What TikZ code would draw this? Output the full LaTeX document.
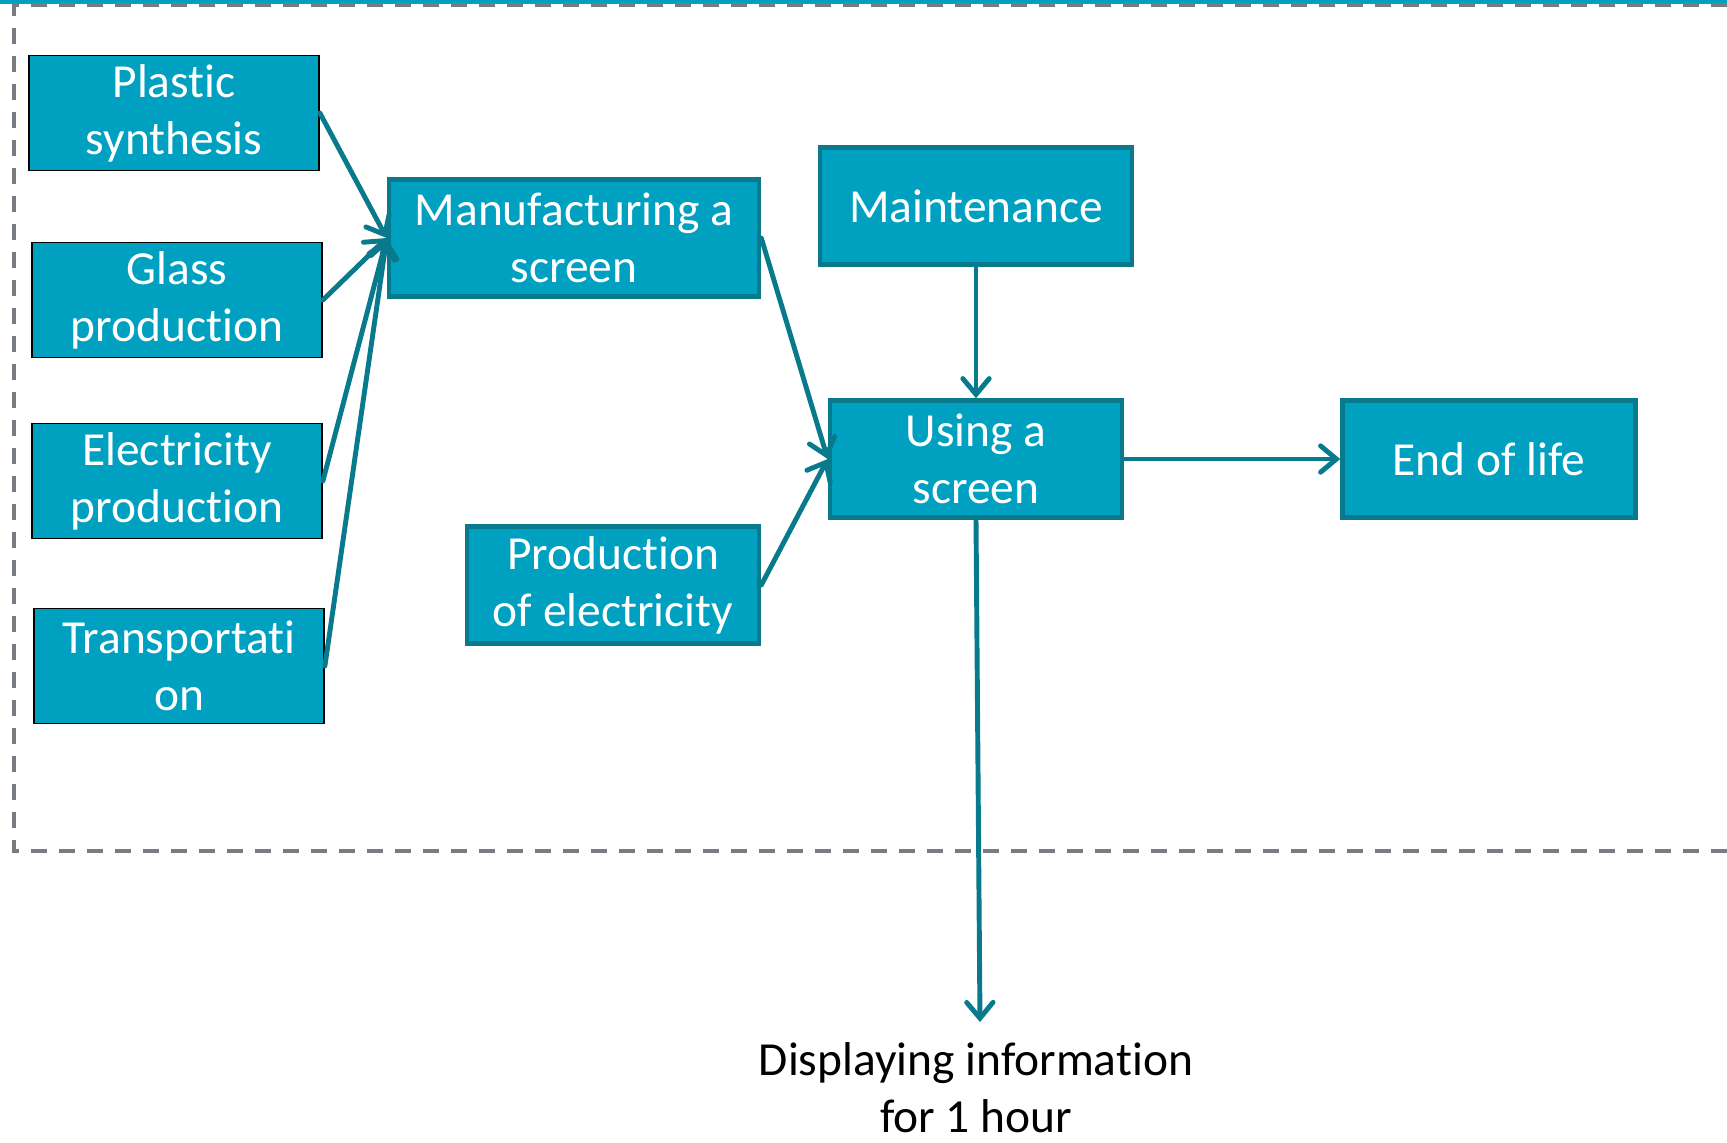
\documentclass[tikz,border=0pt]{standalone}
\usepackage{fontspec}
\setmainfont{Carlito}[RawFeature={-liga,-clig,-calt,-dlig}]
\usepackage{xcolor}
\usepackage{tikz}
\usetikzlibrary{arrows.meta, positioning}
\definecolor{boxteal}{RGB}{0,161,192}
\definecolor{edgeteal}{RGB}{8,122,140}
\definecolor{framegray}{RGB}{118,124,130}
\tikzstyle{inbox} = [rectangle, minimum width=2.9cm, minimum height=1.15cm, inner ysep=1pt, align=center, text=white, draw=black, line width=0.5pt, fill=boxteal, font=\fontsize{13.5}{16.3}\selectfont]
\tikzstyle{arrow} = [line width=1.4pt, draw=edgeteal, -{Straight Barb[length=4.5pt,width=7.5pt,line cap=round]}, line cap=round]

\begin{document}
\begin{tikzpicture}[stage/.style={inbox, draw=edgeteal, line width=1.3pt, minimum height=1.17cm}, frame/.style={draw=framegray, line width=1pt, dash pattern=on 0.16cm off 0.12cm}]
    \useasboundingbox (0,0) rectangle (17.27,-11.42);
    \fill[boxteal] (0,0) rectangle (17.27,-0.035);
    \draw[frame] (17.27,-0.05) -- (0.14,-0.05) -- (0.14,-8.51) -- (17.27,-8.51);
    % inputs
    \node[inbox] (plastic) at (1.74,-1.13) {Plastic\\synthesis};
    \node[inbox] (glass) at (1.77,-3.00) {Glass\\production};
    \node[inbox] (elec) at (1.77,-4.81) {Electricity\\production};
    \node[inbox] (transport) at (1.79,-6.66) {Transportati\\on};
    % life cycle
    \node[stage, minimum width=3.7cm] (manuf) at (5.74,-2.38) {Manufacturing a\\screen};
    \node[stage, minimum width=3.12cm] (maint) at (9.76,-2.06) {Maintenance};
    \node[stage, minimum width=2.92cm] (using) at (9.76,-4.59) {Using a\\screen};
    \node[stage, minimum width=2.93cm] (endlife) at (14.89,-4.59) {End of life};
    \node[stage, minimum width=2.92cm] (prodelec) at (6.13,-5.85) {Production\\of electricity};
    \coordinate (dispend) at (9.80,-10.22);
    \node[align=center, inner sep=0pt, font=\fontsize{13.5}{16.3}\selectfont] (display) at (9.76,-10.88) {Displaying information\\for 1 hour};
    \draw[arrow] (plastic.east) -- (manuf.west);
    \draw[arrow] (glass.east) -- (manuf.west);
    \draw[arrow] (elec.east) -- (manuf.west);
    \draw[arrow] (transport.east) -- (manuf.west);
    \draw[arrow] (manuf.east) -- (using.west);
    \draw[arrow] (prodelec.east) -- (using.west);
    \draw[arrow] (maint.south) -- (using.north);
    \draw[arrow] (using.east) -- (endlife.west);
    \draw[arrow] (using.south) -- (dispend);
\end{tikzpicture}
\end{document}
